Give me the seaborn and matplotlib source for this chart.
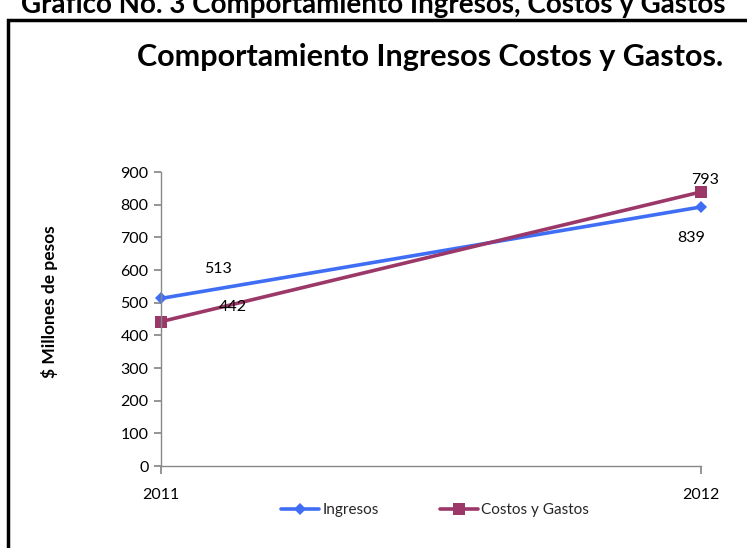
import matplotlib
matplotlib.use("Agg")
import matplotlib.pyplot as plt
import seaborn as sns
import pandas as pd
from matplotlib.patches import Rectangle

years = [2011, 2012]
ingresos = [513, 793]
costos = [442, 839]
series_names = ["Ingresos", "Costos y Gastos"]
label_ingresos = ["513", "793"]
label_costos = ["442", "839"]
yticks = [0, 100, 200, 300, 400, 500, 600, 700, 800, 900]

df = pd.DataFrame({
    "year": years * 2,
    "value": ingresos + costos,
    "serie": [series_names[0]] * 2 + [series_names[1]] * 2,
})

sns.set_theme(style="white")
plt.rcParams["font.family"] = ["Lato", "DejaVu Sans"]

W, H = 747, 548
fig = plt.figure(figsize=(W / 100, H / 100), dpi=100)
fig.patch.set_facecolor("white")

# outer frame
fig.add_artist(Rectangle((8 / W, -0.1), 1.2, 1 - 20 / H + 0.1, transform=fig.transFigure,
                         fill=False, edgecolor="black", linewidth=2.5))
fig.text(0.5, 1 - 13 / H, "Gráfico No. 3 Comportamiento Ingresos, Costos y Gastos",
         ha="center", va="baseline", fontsize=20, fontweight="bold", color="black")

ax = fig.add_axes([161 / W, 1 - 466 / H, (701 - 161) / W, (466 - 172) / H])
palette = {"Ingresos": "#3F6EF5", "Costos y Gastos": "#9B3868"}
sns.lineplot(data=df, x="year", y="value", hue="serie", style="serie",
             markers={"Ingresos": "D", "Costos y Gastos": "s"}, dashes=False,
             palette=palette, linewidth=2.6, markersize=8, markeredgewidth=0,
             ax=ax, legend=True)
for line in ax.lines:
    if line.get_marker() == "D":
        line.set_markersize(6.5)

ax.set_xlim(2011, 2012)
ax.set_ylim(0, 900)
ax.set_yticks(yticks)
ax.set_xticks(years)
ax.set_xticklabels([str(y) for y in years])
ax.set_xlabel("")
ax.set_ylabel("")
for s in ["top", "right"]:
    ax.spines[s].set_visible(False)
for s in ["left", "bottom"]:
    ax.spines[s].set_color("#888888")
    ax.spines[s].set_linewidth(1)
ax.tick_params(axis="y", direction="out", length=5, color="#888888", labelsize=11.5,
               labelcolor="black", pad=4, left=True)
ax.tick_params(axis="x", direction="out", length=6, color="#888888", labelsize=11.5,
               labelcolor="black", pad=10, bottom=True)
for sp in ax.spines.values():
    sp.set_clip_on(False)
for line in ax.lines:
    line.set_clip_on(False)

# data labels (as placed in the original)
px = 0.72
offsets_ing = [(57, 29), (4, 27)]
offsets_cos = [(72, 15), (-10, -46)]
for x, y, t, (dx, dy) in zip(years, ingresos, label_ingresos, offsets_ing):
    ax.annotate(t, (x, y), xytext=(dx * px, dy * px), textcoords="offset points",
                ha="center", va="center", fontsize=11.5, color="black", annotation_clip=False)
for x, y, t, (dx, dy) in zip(years, costos, label_costos, offsets_cos):
    ax.annotate(t, (x, y), xytext=(dx * px, dy * px), textcoords="offset points",
                ha="center", va="center", fontsize=11.5, color="black", annotation_clip=False)

fig.text(430 / W, 1 - 57 / H, "Comportamiento Ingresos Costos y Gastos.",
         ha="center", va="center", fontsize=22, fontweight="bold", color="black")
fig.text(50 / W, 1 - 302 / H, "$ Millones de pesos", rotation=90,
         ha="center", va="center", fontsize=12.5, fontweight="bold", color="black")

leg = ax.legend(loc="center", bbox_to_anchor=(435 / W, 1 - 510 / H),
                bbox_transform=fig.transFigure, ncol=2, frameon=False,
                fontsize=11, handlelength=2.5, columnspacing=4, handletextpad=0.2)

fig.savefig("out.png", dpi=100)
